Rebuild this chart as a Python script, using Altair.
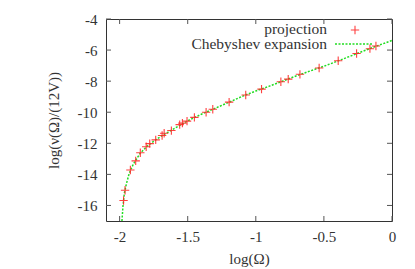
import altair as alt
import pandas as pd

# projection points
proj_x = [-1.971, -1.960, -1.921, -1.882, -1.848, -1.805, -1.779, -1.735, -1.688, -1.673,
          -1.620, -1.559, -1.539, -1.505, -1.451, -1.365, -1.316, -1.196, -1.074, -0.958,
          -0.816, -0.762, -0.676, -0.535, -0.395, -0.260, -0.162, -0.118]
proj_y = [-15.68, -15.02, -13.72, -13.13, -12.61, -12.22, -12.02, -11.78, -11.50, -11.35,
          -11.18, -10.80, -10.70, -10.57, -10.33, -10.00, -9.81, -9.35, -8.89, -8.51,
          -8.04, -7.87, -7.56, -7.15, -6.69, -6.22, -5.91, -5.74]

# Chebyshev expansion curve
cheb_x = [-1.983, -1.975, -1.965, -1.95, -1.93, -1.9, -1.85, -1.8, -1.75, -1.7, -1.6, -1.5,
          -1.4, -1.3, -1.2, -1.1, -1.0, -0.9, -0.8, -0.7, -0.6, -0.5, -0.4, -0.3, -0.2, -0.1, 0.0]
cheb_y = [-17.0, -16.0, -15.2, -14.6, -13.95, -13.35, -12.65, -12.2, -11.87, -11.57, -11.05, -10.55,
          -10.13, -9.75, -9.37, -8.98, -8.63, -8.32, -7.99, -7.65, -7.34, -7.04, -6.71, -6.37, -6.03, -5.7, -5.38]

x_ticks = [-2, -1.5, -1, -0.5, 0]
y_ticks = [-16, -14, -12, -10, -8, -6, -4]
legend_labels = ["projection", "Chebyshev expansion"]

W, H = 286, 202
FONT = "Liberation Serif"
FS = 15

proj = pd.DataFrame({"x": proj_x, "y": proj_y})
cheb = pd.DataFrame({"x": cheb_x, "y": cheb_y})
xt = pd.DataFrame({"x": x_ticks})
yt = pd.DataFrame({"y": y_ticks})

xs = alt.Scale(domain=[-2.1, 0], nice=False, zero=False)
ys = alt.Scale(domain=[-17, -4], nice=False, zero=False)

common = dict(ticks=False, domain=False, grid=False, labelFont=FONT, labelFontSize=FS,
              labelColor="#333", titleFont=FONT, titleFontSize=FS, titleFontWeight="normal",
              titleColor="#333", labelOverlap=False, labelFlush=False, labelBound=False,
              labelExpr="'' + datum.value")
xaxis = alt.Axis(values=x_ticks, labelPadding=8, title="log(Ω)", titlePadding=7, **common)
yaxis = alt.Axis(values=y_ticks, labelPadding=9, title="log(ν(Ω)/(12V))", titlePadding=16, **common)

X = alt.X("x:Q", scale=xs, axis=xaxis)
Y = alt.Y("y:Q", scale=ys, axis=yaxis)

line = alt.Chart(cheb).mark_line(color="#22dd22", strokeWidth=1.5, strokeDash=[2, 1.5]).encode(x=X, y=Y)

plus = "M-1,0L1,0M0,-1L0,1"
pts = alt.Chart(proj).mark_point(shape=plus, filled=False, color="#ff2020", size=70,
                                  strokeWidth=1.1, opacity=0.85).encode(x=X, y=Y)

tc = "#555"
xb = alt.Chart(xt).mark_rule(color=tc).encode(x=X, y=alt.value(H), y2=alt.value(H - 5))
xtp = alt.Chart(xt).mark_rule(color=tc).encode(x=X, y=alt.value(0), y2=alt.value(5))
yl = alt.Chart(yt).mark_rule(color=tc).encode(y=Y, x=alt.value(0), x2=alt.value(5))
yr = alt.Chart(yt).mark_rule(color=tc).encode(y=Y, x=alt.value(W), x2=alt.value(W - 5))

LFS = 15.5
leg_df = pd.DataFrame({"label": legend_labels})
leg_t1 = alt.Chart(leg_df.iloc[:1]).mark_text(align="right", baseline="middle", font=FONT, fontSize=LFS,
                                              color="#333").encode(
    x=alt.value(221), y=alt.value(10), text="label:N")
leg_t2 = alt.Chart(leg_df.iloc[1:]).mark_text(align="right", baseline="middle", font=FONT, fontSize=LFS,
                                              color="#333").encode(
    x=alt.value(221), y=alt.value(25), text="label:N")
leg_pt = alt.Chart(leg_df.iloc[:1]).mark_point(shape=plus, filled=False, color="#ff2020", size=70,
                                               strokeWidth=1.1, opacity=0.85).encode(
    x=alt.value(249), y=alt.value(11))
leg_line = alt.Chart(leg_df.iloc[1:]).mark_rule(color="#22dd22", strokeWidth=1.5,
                                                strokeDash=[2, 1.5]).encode(
    x=alt.value(229), x2=alt.value(267), y=alt.value(25))

chart = alt.layer(line, pts, xb, xtp, yl, yr, leg_t1, leg_t2, leg_pt, leg_line).properties(
    width=W, height=H,
    autosize=alt.AutoSizeParams(type="none"),
    padding={"left": 98, "top": 11, "right": 15, "bottom": 50},
).configure_view(stroke="#333", strokeWidth=1)

chart.save("out.html", embed_options={"renderer": "svg", "actions": False})
